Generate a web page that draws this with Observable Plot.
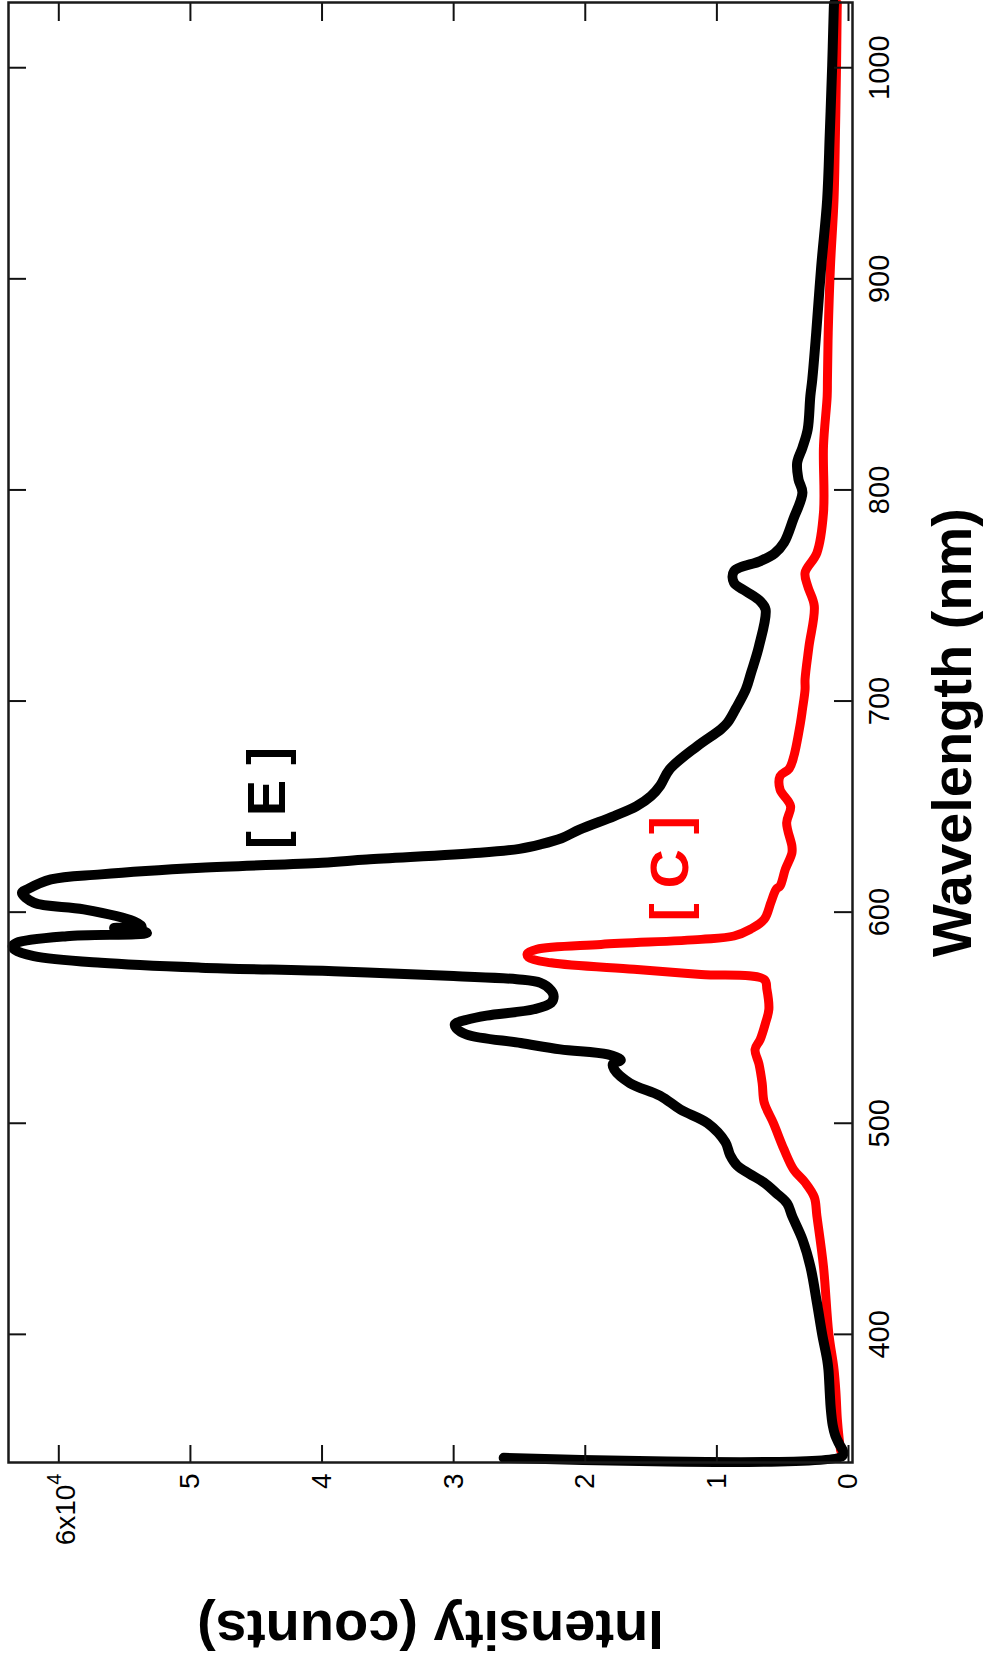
<!DOCTYPE html>
<html><head><meta charset="utf-8">
<script src="https://cdn.jsdelivr.net/npm/d3@7"></script>
<script src="https://cdn.jsdelivr.net/npm/@observablehq/plot@0.6"></script>
<style>
html,body{margin:0;padding:0;background:#fff;overflow:hidden;}
#page{position:relative;width:985px;height:1670px;overflow:hidden;background:#fff;}
#chart{position:absolute;left:0;top:0;width:1670px;height:985px;transform-origin:0 0;transform:translate(0px,1670px) rotate(-90deg);}
</style></head><body>
<div id="page"><div id="chart"></div></div>
<script>
// Spectrum [E] (black)
const wavelengthE = [341.5,342.2,344.5,348,352,357,365,372,383,388,400,415,432,445,456,462,467,472,476,480,485,491,500,506.5,513,519,525.5,528,530,532.6,535,538,542,545,547,549,551,554,557,560,563,566.5,568.2,569.7,572,573.7,576,579.2,582,584,585.5,588.6,590.2,591.5,592.5,593.2,595.7,601.3,604.5,609.2,610.8,615.5,617.9,621,623.4,624.9,628.1,630,632.1,635,639.2,645.5,650.2,655,660,667.6,678.6,686.6,689.7,696,705.5,713.4,726,743.4,747.3,752,756,761.5,766.3,770,775,786,798.7,805,812.9,820,828.7,844.4,852.4,874.6,906,937.6,969.3,1000.8,1027.6,1030.5];
const countsE = [26200,500,400,700,1000,1200,1350,1420,1520,1620,2000,2400,2890,3500,4280,4660,5500,6440,7500,8460,9000,9350,10700,12770,14300,16600,17800,17900,17300,18300,21900,24900,29000,29800,29900,29000,27500,23900,22600,22400,22600,23400,25200,30000,39100,49200,56800,61900,63300,63500,63200,59400,53300,53800,55800,53700,54300,58100,61900,62800,62400,60600,56800,49200,40000,36600,28000,25000,23400,21800,20400,17800,16100,15000,14300,13600,11500,9700,9200,8600,7800,7400,6800,6300,6700,7800,8700,8700,6700,5600,4900,4200,3500,3800,3900,3500,3100,2900,2750,2450,2070,1620,1420,1240,1120,1100];
// Spectrum [C] (red)
const wavelengthC = [345,350,360,372,383.4,400.7,432,456,465,472,478,487.6,500,509.7,519,528,535,539.8,547.6,554,563.4,568.1,570.5,572.9,576,578.5,580.5,582.4,584.7,587.1,588.7,591.9,596.6,604.5,610.8,612.4,620.3,628,631.3,642.3,650.2,658.1,664.4,668,673.9,689.7,696,705.5,710.3,726,745,754.4,760.8,770.2,789.2,820.8,844.4,852.4,874.6,906,937.6,969.3,1000.8,1027.6,1030.5];
const countsC = [600,700,850,950,1100,1500,1900,2400,2600,3300,4160,4900,5700,6400,6560,6800,7100,6700,6300,6050,6200,6400,11200,16300,22600,24300,24400,23700,18800,11200,8700,7450,6400,5900,5500,5200,4800,4300,4300,4700,4400,5200,5200,4500,4150,3650,3500,3300,3300,3000,2600,3100,3300,2400,1900,1900,1620,1600,1540,1370,1100,990,910,860,850];
// Axes
const wavelengthTicks = [400,500,600,700,800,900,1000];
const intensityTicks = [0,10000,20000,30000,40000,50000,60000];
const intensityTickLabels = ["0","1","2","3","4","5","6x10^4"];
// Annotations
const labelText = ["[ E ]","[ C ]"];
const labelWavelength = [654.1,620.6];
const labelCounts = [44100,13500];
const labelColor = ["#000000","#ff0000"];

const seriesE = wavelengthE.map((w,i)=>({w, c: countsE[i]}));
const seriesC = wavelengthC.map((w,i)=>({w, c: countsC[i]}));
const labels = labelText.map((t,i)=>({t, w: labelWavelength[i], c: labelCounts[i], col: labelColor[i]}));

const W = 1670, H = 985, mL = 207, mR = 3, mT = 8, mB = 133;
const frameW = W - mL - mR, frameH = H - mT - mB;
const tickLen = 18;

const svg = Plot.plot({
  width: W, height: H,
  marginLeft: mL, marginRight: mR, marginTop: mT, marginBottom: mB,
  style: {fontFamily: "'Liberation Sans', Arial, sans-serif", fontSize: "28px", background: "#fff", color: "#000"},
  x: {domain: [339.3, 1030.9]},
  y: {domain: [-304, 63822]},
  marks: [
    Plot.line(seriesC, {x: "w", y: "c", stroke: "#ff0000", strokeWidth: 9, curve: "catmull-rom", strokeLinejoin: "round", strokeLinecap: "round"}),
    Plot.line(seriesE, {x: "w", y: "c", stroke: "#000", strokeWidth: 10, curve: "catmull-rom", strokeLinejoin: "round", strokeLinecap: "round"}),
    Plot.text(labels, {x: "w", y: "c", text: "t", fill: "col", fontSize: 54, fontWeight: "bold", textAnchor: "middle", lineAnchor: "middle"}),
    Plot.tickX(wavelengthTicks, {x: d => d, stroke: "#111", strokeWidth: 2, insetTop: frameH - tickLen}),
    Plot.tickX(wavelengthTicks, {x: d => d, stroke: "#111", strokeWidth: 2, insetBottom: frameH - tickLen}),
    Plot.tickY(intensityTicks, {y: d => d, stroke: "#111", strokeWidth: 2, insetRight: frameW - tickLen}),
    Plot.tickY(intensityTicks, {y: d => d, stroke: "#111", strokeWidth: 2, insetLeft: frameW - tickLen}),
    Plot.axisX({ticks: wavelengthTicks, tickSize: 0, tickPadding: 16, label: null, fontSize: 29, tickFormat: d => String(d)}),
    Plot.axisY({ticks: intensityTicks, tickSize: 0, tickPadding: 11, label: null, fontSize: 28,
      tickFormat: d => intensityTickLabels[intensityTicks.indexOf(d)]}),
    Plot.frame({stroke: "#1a1a1a", strokeWidth: 2.5}),
    Plot.text(["Wavelength (nm)"], {text: d => d, frameAnchor: "bottom", dy: 101, fontSize: 56, fontWeight: "bold", textAnchor: "middle", lineAnchor: "middle"}),
    Plot.text(["Intensity (counts)"], {text: d => d, frameAnchor: "left", dx: -166, rotate: -90, fontSize: 56, fontWeight: "bold", textAnchor: "middle", lineAnchor: "middle"})
  ]
});

d3.select(svg).selectAll("text").each(function() {
  const t = this.textContent;
  if (t.includes("^")) {
    const [a, b] = t.split("^");
    this.textContent = a;
    d3.select(this).append("tspan").attr("dy", "-0.7em").attr("font-size", "20px").text(b);
    const tr = this.getAttribute("transform") || "";
    this.setAttribute("transform", tr + " translate(0,7)");
  }
});

document.getElementById("chart").appendChild(svg);
</script>
</body></html>
